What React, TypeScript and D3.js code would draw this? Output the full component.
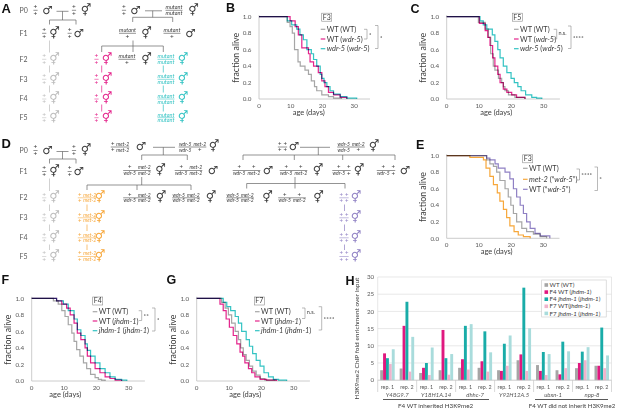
import React from "react";
import * as d3 from "d3";

const FONT = "Lato, 'Open Sans', 'DejaVu Sans', sans-serif";
const SYMFONT = "'DejaVu Sans', sans-serif";
const LETTERFONT = "'Liberation Sans', Arial, sans-serif";

const GRAY = "#a6a6a6";
const MAG = "#e4238b";
const TEAL = "#33c3c3";
const ORANGE = "#f7a73a";
const PURPLE = "#8f80c4";
const TREE = "#666666";
const FAINT = "#bdbdbd";
const AXIS = "#bfbfbf";
const TICK = "#595959";
const INK = "#3c3c3c";

// ---------------- survival data: [age (days), fraction alive]
type Pt = [number, number];
const dayTicks = [0, 10, 20, 30];
const fracTicks = [0, 0.2, 0.4, 0.6, 0.8, 1.0];

const bWT: Pt[] = [[0,1],[8.9,0.93],[9.8,0.88],[10.5,0.8],[11.2,0.6],[12.3,0.45],[13,0.4],[14.5,0.35],[15.6,0.3],[16.5,0.22],[17.5,0.15],[18.2,0.1],[19.8,0.05],[21.9,0.03],[23.5,0.01],[26,0]];
const bWTw: Pt[] = [[0,1],[9.8,0.95],[11.4,0.88],[12.4,0.78],[13.5,0.62],[15.6,0.55],[16.1,0.45],[17.2,0.4],[18.7,0.32],[19.8,0.22],[20.8,0.15],[21.9,0.08],[23.5,0.05],[25.6,0.02],[27.7,0]];
const bW5: Pt[] = [[0,1],[8.9,0.95],[10.3,0.9],[11.9,0.85],[12.9,0.78],[14,0.72],[15.1,0.6],[16.5,0.55],[17.2,0.48],[18.2,0.4],[19.3,0.3],[19.8,0.25],[20.5,0.2],[21.4,0.15],[22.4,0.1],[23.5,0.06],[25.6,0.03],[27.7,0.01],[30.8,0]];

const cWT: Pt[] = [[0,1],[9.8,0.93],[11.9,0.85],[12.9,0.75],[13.6,0.55],[14.4,0.4],[14.9,0.35],[16,0.25],[17,0.2],[17.5,0.15],[18,0.1],[19.1,0.05],[21.1,0.02],[24.2,0]];
const cWTw: Pt[] = [[0,1],[10.1,0.92],[11.9,0.83],[12.7,0.75],[13.4,0.65],[14.2,0.5],[14.9,0.4],[15.8,0.3],[16.5,0.2],[17.5,0.12],[18.6,0.08],[20.1,0.05],[21.6,0.02],[24.2,0]];
const cW5: Pt[] = [[0,1],[10.3,0.95],[11.3,0.9],[12.4,0.85],[14.1,0.78],[14.9,0.7],[15.8,0.6],[16.5,0.5],[17.5,0.4],[18.6,0.32],[19.9,0.25],[20.9,0.2],[22,0.15],[23,0.1],[24.4,0.05],[26.3,0.02],[27.8,0.01],[29.4,0]];

const eWT: Pt[] = [[0,1],[12.4,0.95],[13.4,0.9],[14.5,0.87],[15.5,0.8],[16.5,0.7],[18.1,0.6],[19.1,0.5],[19.9,0.4],[20.7,0.3],[21.7,0.2],[23.3,0.12],[24.8,0.08],[26.9,0.05],[29,0.02],[31,0]];
const eMet: Pt[] = [[0,1],[7.2,0.98],[11.4,0.95],[12.2,0.85],[13.4,0.75],[14.5,0.65],[15.7,0.55],[16.5,0.45],[17.6,0.35],[18.6,0.25],[19.6,0.15],[20.9,0.08],[22.2,0.04],[23.8,0.02],[25.9,0]];
const eWTw: Pt[] = [[0,1],[12.4,0.97],[13.4,0.95],[15,0.9],[16,0.85],[18.1,0.8],[19.6,0.72],[20.7,0.6],[21.7,0.5],[22.8,0.4],[23.8,0.3],[24.8,0.2],[25.9,0.12],[27.4,0.06],[29,0.03],[32,0]];

const fWT: Pt[] = [[0,1],[6.7,0.97],[8.2,0.93],[9.3,0.85],[10.3,0.78],[11.3,0.68],[12.4,0.58],[13.1,0.48],[13.9,0.38],[14.9,0.3],[16,0.22],[17,0.15],[18.2,0.08],[19.6,0.04],[20.6,0.02],[21.6,0.01],[22.7,0]];
const fWTj: Pt[] = [[0,1],[7.7,0.97],[9.3,0.93],[10.8,0.88],[11.9,0.8],[13.1,0.7],[14.1,0.58],[15.2,0.5],[16.5,0.4],[17.2,0.3],[18.2,0.22],[19.6,0.15],[21.1,0.1],[22.7,0.05],[24.2,0.03],[25.8,0.01],[27.8,0]];
const fJ: Pt[] = [[0,1],[7.7,0.97],[9.8,0.93],[11.3,0.85],[13.1,0.75],[14.1,0.62],[15.2,0.55],[16.5,0.45],[17.2,0.37],[18.2,0.3],[19.6,0.22],[21.1,0.15],[22.7,0.1],[24.2,0.05],[25.8,0.02],[27.8,0.01],[29.4,0]];

const gWT: Pt[] = [[0,1],[7.7,0.95],[8.8,0.88],[9.8,0.8],[10.8,0.7],[11.9,0.6],[12.9,0.5],[13.6,0.4],[14.4,0.32],[15.3,0.25],[16.3,0.18],[17.3,0.12],[18.4,0.07],[19.6,0.03],[21.1,0.01],[24.2,0]];
const gWTj: Pt[] = [[0,1],[7.2,0.93],[8.2,0.85],[9.1,0.75],[10.1,0.65],[11.3,0.55],[12.4,0.45],[13.4,0.35],[14.2,0.3],[14.9,0.22],[16,0.15],[17,0.1],[18,0.05],[19.6,0.02],[21.6,0.01],[24.7,0]];
const gJ: Pt[] = [[0,1],[8.2,0.95],[9.3,0.9],[10.5,0.85],[11.9,0.78],[12.9,0.7],[13.9,0.6],[15.3,0.5],[16.3,0.42],[17.3,0.33],[18.4,0.25],[19.6,0.18],[20.8,0.1],[22.2,0.05],[23.7,0.02],[25.3,0.01],[27.8,0]];

const labWdr = ["WT (WT)", "WT (_wdr-5_)", "_wdr-5_ (_wdr-5_)"];
const labMet = ["WT (WT)", "_met-2_ (\u201C_wdr-5_\u201D)", "WT (\u201C_wdr-5_\u201D)"];
const labJh = ["WT (WT)", "WT (_jhdm-1_)", "_jhdm-1_ (_jhdm-1_)"];

// ---------------- ChIP data (panel H)
const hGenes = ["Y48G9.7", "Y18H1A.14", "dhhc-7", "Y92H12A.5", "ubxn-1", "npp-8"];
const hReps = ["rep. 1", "rep. 2"];
const hTicks = [0, 5, 10, 15, 20, 25, 30];
const hLabels = ["WT (WT)", "F4 WT (_jhdm-1_)", "F4 _jhdm-1_ (_jhdm-1_)", "F7 WT(_jhdm-1_)", "F7 _jhdm-1_ (_jhdm-1_)"];
const hWT = [2.9, 3.4, 2.1, 2.9, 3.6, 3.6, 2.9, 5.8, 4.4, 2.9, 3.5, 4.2];
const hF4WT = [7.8, 15.8, 3.6, 14.6, 6.1, 5.5, 2.7, 7.5, 2.7, 1.7, 5.0, 4.2];
const hF4J = [6.4, 22.8, 5.0, 6.4, 15.8, 14.2, 10.6, 26.9, 8.2, 11.2, 8.3, 15.3];
const hF7WT = [4.7, 2.5, 1.5, 1.6, 3.1, 2.5, 4.2, 2.7, 1.5, 3.5, 5.8, 3.5];
const hF7J = [9.0, 12.6, 9.5, 7.6, 16.3, 8.1, 13.0, 15.1, 7.6, 8.4, 9.6, 7.2];
const hColors = ["#a5a5a5", "#e0187f", "#19aca8", "#f0b3cc", "#a9dcdc"];

function Rich({ s }: { s: string }) {
  const parts = s.split("_");
  return (
    <>
      {parts.map((t, i) =>
        t ? (
          <tspan key={i} fontStyle={i % 2 ? "italic" : "normal"}>
            {t}
          </tspan>
        ) : null
      )}
    </>
  );
}

// ---------------- survival panel
type Bracket = { x: number; y1: number; y2: number; label: string };
type SurvDef = {
  letter: string; lx: number; ly: number;
  x0: number; x1: number; yTop: number; yBot: number;
  gen: string; boxX: number; boxY: number;
  legX: number; legY: number[]; labels: string[];
  data: Pt[][]; colors: string[];
  brackets: Bracket[]; ageDay: number;
};

const survPanels: SurvDef[] = [
  { letter: "B", lx: 226, ly: 12, x0: 259, x1: 370, yTop: 16.7, yBot: 99, gen: "F3", boxX: 321.7, boxY: 13.2,
    legX: 320.7, legY: [29.3, 39, 48.7], labels: labWdr, data: [bWT, bWTw, bW5], colors: [GRAY, MAG, TEAL],
    brackets: [{ x: 367, y1: 29.3, y2: 39, label: "*" }, { x: 378, y1: 25.5, y2: 48.5, label: "*" }], ageDay: 15.7 },
  { letter: "C", lx: 410.5, ly: 13, x0: 446.7, x1: 559.9, yTop: 16.7, yBot: 99, gen: "F5", boxX: 512.3, boxY: 13.2,
    legX: 514, legY: [29.3, 39, 48.7], labels: labWdr, data: [cWT, cWTw, cW5], colors: [GRAY, MAG, TEAL],
    brackets: [{ x: 556.7, y1: 29.3, y2: 39, label: "n.s." }, { x: 571, y1: 26, y2: 48.5, label: "****" }], ageDay: 15.3 },
  { letter: "E", lx: 416, ly: 148.5, x0: 446.7, x1: 559.5, yTop: 155.7, yBot: 238.3, gen: "F3", boxX: 522.7, boxY: 154.8,
    legX: 523, legY: [168.3, 179.3, 189.3], labels: labMet, data: [eWT, eMet, eWTw], colors: [GRAY, ORANGE, PURPLE],
    brackets: [{ x: 579.5, y1: 169, y2: 180, label: "****" }, { x: 597.5, y1: 167, y2: 190.5, label: "*" }], ageDay: 15.5 },
  { letter: "F", lx: 1.5, ly: 283.5, x0: 31.7, x1: 144.9, yTop: 298.3, yBot: 381, gen: "F4", boxX: 92.7, boxY: 297,
    legX: 92.7, legY: [311.7, 321, 330.7], labels: labJh, data: [fWT, fWTj, fJ], colors: [GRAY, MAG, TEAL],
    brackets: [{ x: 141.7, y1: 310.7, y2: 320.5, label: "**" }, { x: 155, y1: 308, y2: 331, label: "*" }], ageDay: 10.4 },
  { letter: "G", lx: 166.5, ly: 283.5, x0: 196.7, x1: 309.9, yTop: 298.3, yBot: 381, gen: "F7", boxX: 254.3, boxY: 297,
    legX: 255, legY: [311.7, 321, 330.7], labels: labJh, data: [gWT, gWTj, gJ], colors: [GRAY, MAG, TEAL],
    brackets: [{ x: 305, y1: 308, y2: 318.5, label: "n.s." }, { x: 321.7, y1: 306.7, y2: 330, label: "****" }], ageDay: 15 },
];

function Survival({ p }: { p: SurvDef }) {
  const x = d3.scaleLinear().domain([0, 35]).range([p.x0, p.x1]);
  const y = d3.scaleLinear().domain([0, 1]).range([p.yBot, p.yTop]);
  const line = d3.line<Pt>().x((d) => x(d[0])).y((d) => y(d[1])).curve(d3.curveStepAfter);
  const midY = (p.yTop + p.yBot) / 2;
  return (
    <g fontFamily={FONT}>
      <text x={p.lx} y={p.ly} fontFamily={LETTERFONT} fontWeight="bold" fontSize={12.5} fill="#111">{p.letter}</text>
      <line x1={x(0)} x2={x(0)} y1={y(1) - 1.5} y2={y(0)} stroke={AXIS} strokeWidth={0.8} />
      <line x1={x(0)} x2={x(35)} y1={y(0)} y2={y(0)} stroke={AXIS} strokeWidth={0.8} />
      {fracTicks.map((t) => (
        <text key={t} x={x(0) - 7.5} y={y(t)} dy="0.35em" textAnchor="end" fontSize={6.3} fill={TICK}>{t.toFixed(1)}</text>
      ))}
      {dayTicks.map((t) => (
        <text key={t} x={x(t)} y={y(0) + 8.6} textAnchor="middle" fontSize={6.3} fill={TICK}>{t}</text>
      ))}
      <text x={x(p.ageDay)} y={y(0) + 16} textAnchor="middle" fontSize={7.5} fill={INK}>age (days)</text>
      <text transform={`translate(${x(0) - 20.5},${midY}) rotate(-90)`} textAnchor="middle" fontSize={8.8} fill={INK}>fraction alive</text>
      {p.data.map((d, i) => (
        <path key={i} d={line(d) || ""} fill="none" stroke={p.colors[i]} strokeWidth={1.2} style={{ mixBlendMode: "multiply" }} />
      ))}
      <rect x={p.boxX} y={p.boxY} width={10} height={8} fill="#fff" stroke="#8c8c8c" strokeWidth={0.6} />
      <text x={p.boxX + 5} y={p.boxY + 6.3} textAnchor="middle" fontSize={7} fill={INK}>{p.gen}</text>
      {p.labels.map((l, i) => (
        <g key={i}>
          <line x1={p.legX} x2={p.legX + 4.6} y1={p.legY[i]} y2={p.legY[i]} stroke={p.colors[i]} strokeWidth={1.2} />
          <text x={p.legX + 6} y={p.legY[i]} dy="0.35em" fontSize={7.4} fill={INK}><Rich s={l} /></text>
        </g>
      ))}
      {p.brackets.map((b, i) => (
        <g key={i}>
          <path d={`M${b.x - 3},${b.y1}H${b.x}V${b.y2}H${b.x - 3}`} fill="none" stroke="#8c8c8c" strokeWidth={0.6} />
          <text x={b.x + 1.8} y={(b.y1 + b.y2) / 2 + (b.label === "n.s." ? 0.5 : 2.6)} fontSize={b.label === "n.s." ? 5.5 : 6.5} fill={INK}>{b.label}</text>
        </g>
      ))}
    </g>
  );
}

// ---------------- genotype glyph for crossing schemes
type Col = [string, string];
function tw(s: string, fs: number) {
  if (s === "+") return fs * 0.62;
  return s.length * fs * 0.49;
}
function Geno({ cx, y, cols, sym, sx, c = INK, fs = 5 }: { cx: number; y: number; cols: Col[]; sym: "m" | "h"; sx: number; c?: string; fs?: number }) {
  const widths = cols.map(([a, b]) => Math.max(tw(a, fs), tw(b, fs)));
  const gap = 2.3;
  const total = widths.reduce((s, w) => s + w, 0) + gap * (cols.length - 1);
  let acc = cx - total / 2;
  const centers = widths.map((w) => {
    const cc = acc + w / 2;
    acc += w + gap;
    return cc;
  });
  return (
    <g fill={c}>
      {cols.map(([a, b], i) => (
        <g key={i}>
          <text x={centers[i]} y={y - 1.1} textAnchor="middle" fontSize={a === "+" ? fs + 1 : fs} fontStyle={a === "+" ? "normal" : "italic"}>{a}</text>
          <text x={centers[i]} y={y + (b === "+" ? 5.3 : 4.6)} textAnchor="middle" fontSize={b === "+" ? fs + 1 : fs} fontStyle={b === "+" ? "normal" : "italic"}>{b}</text>
        </g>
      ))}
      <line x1={cx - total / 2 - 0.4} x2={cx + total / 2 + 0.4} y1={y} y2={y} stroke={c} strokeWidth={0.55} />
      <text x={sx} y={y + 3.2} textAnchor="middle" fontFamily={SYMFONT} fontSize={11.5} fill={c}>{sym === "h" ? "\u26A5" : "\u2642"}</text>
    </g>
  );
}

const PP: Col[] = [["+", "+"]];
const MP: Col[] = [["mutant", "+"]];
const MM: Col[] = [["mutant", "mutant"]];
const pMet_pMet: Col[] = [["+", "+"], ["met-2", "met-2"]];
const wMet_wP: Col[] = [["wdr-5", "wdr-5"], ["met-2", "+"]];
const pMet_wMet: Col[] = [["+", "wdr-5"], ["met-2", "met-2"]];
const wMet_wMet: Col[] = [["wdr-5", "wdr-5"], ["met-2", "met-2"]];
const pp_pp: Col[] = [["+", "+"], ["+", "+"]];
const pp_wMet: Col[] = [["+", "wdr-5"], ["+", "met-2"]];
const pp_wP: Col[] = [["+", "wdr-5"], ["+", "+"]];

function RowLabels({ rows }: { rows: [string, number][] }) {
  return (
    <g fontSize={7} fill={TICK}>
      {rows.map(([t, y]) => (
        <text key={t} x={19.5} y={y} dy="0.35em">{t}</text>
      ))}
    </g>
  );
}

function PanelA() {
  const r = { P0: 10.3, F1: 33.3, F2: 59.3, F3: 79.3, F4: 99, F5: 117.7 };
  return (
    <g fontFamily={FONT}>
      <text x={1.5} y={13.3} fontFamily={LETTERFONT} fontWeight="bold" fontSize={13} fill="#111">A</text>
      <RowLabels rows={[["P0", r.P0], ["F1", r.F1], ["F2", r.F2], ["F3", r.F3], ["F4", r.F4], ["F5", r.F5]]} />
      {/* left: wild-type lineage */}
      <Geno cx={35.5} y={r.P0} cols={PP} sym="m" sx={47.5} fs={5.5} />
      <Geno cx={74} y={r.P0} cols={PP} sym="h" sx={86} fs={5.5} />
      <Geno cx={44.2} y={r.F1} cols={PP} sym="h" sx={54.5} fs={5.5} />
      <Geno cx={69.7} y={r.F1} cols={PP} sym="m" sx={78.7} fs={5.5} />
      {[r.F2, r.F3, r.F4, r.F5].map((yy, i) => (
        <Geno key={i} cx={44.2} y={yy} cols={PP} sym="h" sx={54.5} c={FAINT} fs={5.5} />
      ))}
      <path d="M56.5,11.3H68.5M62.5,11.3V20M49.5,20H76M49.5,20V24.5M76,20V24.5" fill="none" stroke={TREE} strokeWidth={0.7} />
      <path d="M49.5,40.5V52.5M49.5,65.5V72.5M49.5,85.5V92.5M49.5,104.5V111.5" fill="none" stroke={FAINT} strokeWidth={0.7} />
      {/* right: mutant lineage */}
      <Geno cx={124} y={r.P0} cols={PP} sym="m" sx={135.5} fs={5.5} />
      <Geno cx={174} y={r.P0} cols={MM} sym="h" sx={193.5} fs={5.5} />
      <Geno cx={127.5} y={r.F1} cols={MP} sym="h" sx={146.5} fs={5.5} />
      <Geno cx={172} y={r.F1} cols={MP} sym="m" sx={190.5} fs={5.5} />
      <Geno cx={127} y={r.F2} cols={MP} sym="h" sx={146.5} fs={5.5} />
      {[r.F2, r.F3, r.F4, r.F5].map((yy, i) => (
        <g key={i}>
          <Geno cx={96.5} y={yy} cols={PP} sym="h" sx={107} c={MAG} fs={5.5} />
          <Geno cx={166} y={yy} cols={MM} sym="h" sx={183} c={TEAL} fs={5.5} />
        </g>
      ))}
      <path d="M145,10.8H162M152.7,10.8V17.3M132.7,17.3H172.7M132.7,17.3V22M172.7,17.3V22M133,40.5V46M101.7,46H163.3M101.7,46V52M133,46V52M163.3,46V52" fill="none" stroke={TREE} strokeWidth={0.7} />
      <path d="M101.7,65.5V72.5M101.7,85.5V92.5M101.7,104.5V111.5" fill="none" stroke={MAG} strokeWidth={0.7} />
      <path d="M163.3,65.5V72.5M163.3,85.5V92.5M163.3,104.5V111.5" fill="none" stroke={TEAL} strokeWidth={0.7} />
    </g>
  );
}

function PanelD() {
  const L = { P0: 150.5, F1: 171.5 };
  const r = { P0: 147, F1: 170.5, F2: 197.8, F3: 217.8, F4: 237.8, F5: 256.5 };
  return (
    <g fontFamily={FONT}>
      <text x={1.5} y={148} fontFamily={LETTERFONT} fontWeight="bold" fontSize={13} fill="#111">D</text>
      <RowLabels rows={[["P0", 150.5], ["F1", 171.5], ["F2", 198], ["F3", 218], ["F4", 238], ["F5", 256.5]]} />
      {/* left: wild-type lineage */}
      <Geno cx={35.5} y={L.P0} cols={PP} sym="m" sx={47.5} fs={5.5} />
      <Geno cx={74} y={L.P0} cols={PP} sym="h" sx={86} fs={5.5} />
      <Geno cx={44.2} y={L.F1} cols={PP} sym="h" sx={54.5} fs={5.5} />
      <Geno cx={69.7} y={L.F1} cols={PP} sym="m" sx={78.7} fs={5.5} />
      {[r.F2, r.F3, r.F4, r.F5].map((yy, i) => (
        <Geno key={i} cx={44.2} y={yy} cols={PP} sym="h" sx={54.5} c={FAINT} fs={5.5} />
      ))}
      <path d="M56.5,151.5H68.5M62.5,151.5V159M49.5,159H76M49.5,159V163.5M76,159V163.5" fill="none" stroke={TREE} strokeWidth={0.7} />
      <path d="M49.5,178.5V191M49.5,204.5V211M49.5,224.5V231M49.5,244.5V250" fill="none" stroke={FAINT} strokeWidth={0.7} />
      {/* middle: met-2 lineage */}
      <Geno cx={120} y={r.P0} cols={pMet_pMet} sym="m" sx={141} />
      <Geno cx={192.5} y={r.P0} cols={wMet_wP} sym="h" sx={214} />
      <Geno cx={137} y={r.F1} cols={pMet_wMet} sym="h" sx={160.5} />
      <Geno cx={188.5} y={r.F1} cols={pMet_wMet} sym="m" sx={213} />
      <Geno cx={137} y={r.F2} cols={pMet_wMet} sym="h" sx={161} />
      <Geno cx={186} y={r.F2} cols={wMet_wMet} sym="h" sx={211} />
      {[r.F2, r.F3, r.F4, r.F5].map((yy, i) => (
        <Geno key={i} cx={87} y={yy} cols={pMet_pMet} sym="h" sx={100} c={ORANGE} />
      ))}
      <path d="M153,147.3H175M163.3,147.3V155M141.7,155H187.3M141.7,155V160M187.3,155V160M141.7,177V185M87,185H191M87,185V190M137,185V190M191,185V190" fill="none" stroke={TREE} strokeWidth={0.7} />
      <path d="M87,204.5V211M87,224.5V231M87,244.5V250" fill="none" stroke={ORANGE} strokeWidth={0.7} />
      {/* right: wdr-5 met-2 lineage */}
      <Geno cx={282.5} y={r.P0} cols={pp_pp} sym="m" sx={294} />
      <Geno cx={351} y={r.P0} cols={wMet_wP} sym="h" sx={374} />
      <Geno cx={246.5} y={r.F1} cols={pp_wMet} sym="m" sx={268} />
      <Geno cx={293.5} y={r.F1} cols={pp_wMet} sym="h" sx={318} />
      <Geno cx={341.5} y={r.F1} cols={pp_wP} sym="h" sx={359} />
      <Geno cx={386} y={r.F1} cols={pp_wP} sym="m" sx={405} />
      <Geno cx={240} y={r.F2} cols={wMet_wMet} sym="h" sx={267.5} />
      <Geno cx={292} y={r.F2} cols={pp_wMet} sym="h" sx={318.5} />
      {[r.F2, r.F3, r.F4, r.F5].map((yy, i) => (
        <Geno key={i} cx={344} y={yy} cols={pp_pp} sym="h" sx={356} c={PURPLE} />
      ))}
      <path d="M300,147.3H330M318.3,147.3V155M243,155H395M243,155V160M294.3,155V160M342.7,155V160M395,155V160M295,177V183.5M246.7,183.5H345M246.7,183.5V188.5M295,183.5V188.5M345,183.5V188.5" fill="none" stroke={TREE} strokeWidth={0.7} />
      <path d="M344.5,204.5V211M344.5,224.5V231M344.5,244.5V250" fill="none" stroke={PURPLE} strokeWidth={0.7} />
    </g>
  );
}

function PanelH() {
  const y = d3.scaleLinear().domain([0, 30]).range([380.2, 277]);
  const gx = d3.scaleBand<string>().domain(hGenes).range([377.7, 611.5]);
  const rx = d3.scaleBand<string>().domain(hReps).range([0, gx.bandwidth()]);
  const series = [hWT, hF4WT, hF4J, hF7WT, hF7J];
  const keys = hLabels;
  const sx = d3.scaleBand<string>().domain(keys).range([0, rx.bandwidth()]).paddingOuter(0.86);
  const left = 377.7, right = 611.5;
  return (
    <g fontFamily={FONT}>
      <text x={345.5} y={284.5} fontFamily={LETTERFONT} fontWeight="bold" fontSize={12.5} fill="#111">H</text>
      {hTicks.map((t) => (
        <g key={t}>
          {t > 0 && <line x1={left} x2={right} y1={y(t)} y2={y(t)} stroke="#d9d9d9" strokeWidth={0.6} />}
          <text x={left - 3.5} y={y(t)} dy="0.35em" textAnchor="end" fontSize={6.2} fill={TICK}>{t}</text>
        </g>
      ))}
      <line x1={right} x2={right} y1={y(30)} y2={y(0)} stroke="#d9d9d9" strokeWidth={0.6} />
      <line x1={left} x2={left} y1={y(30)} y2={y(0)} stroke="#d9d9d9" strokeWidth={0.6} />
      {hGenes.map((g, gi) =>
        hReps.map((rp, ri) =>
          series.map((vals, si) => {
            const v = vals[gi * 2 + ri];
            const x0 = (gx(g) || 0) + (rx(rp) || 0) + (sx(keys[si]) || 0);
            return <rect key={`${g}-${rp}-${si}`} x={x0} y={y(v)} width={sx.bandwidth()} height={y(0) - y(v)} fill={hColors[si]} />;
          })
        )
      )}
      <line x1={left} x2={right} y1={y(0)} y2={y(0)} stroke={AXIS} strokeWidth={0.8} />
      {hGenes.map((g, gi) => (
        <g key={g}>
          <line x1={gx(g) || 0} x2={gx(g) || 0} y1={y(0)} y2={392} stroke={AXIS} strokeWidth={0.6} />
          {hReps.map((rp) => (
            <text key={rp} x={(gx(g) || 0) + (rx(rp) || 0) + rx.bandwidth() / 2} y={389} textAnchor="middle" fontSize={5.4} fill={TICK}>{rp}</text>
          ))}
          <text x={(gx(g) || 0) + gx.bandwidth() / 2} y={396.5} textAnchor="middle" fontSize={6} fontStyle="italic" fill={TICK}>{g}</text>
          {gi === hGenes.length - 1 && <line x1={right} x2={right} y1={y(0)} y2={392} stroke={AXIS} strokeWidth={0.6} />}
        </g>
      ))}
      <line x1={383} x2={489} y1={399.5} y2={399.5} stroke={TICK} strokeWidth={1.1} />
      <text x={435.5} y={407.5} textAnchor="middle" fontSize={6.3} fill={INK}>F4 WT inherited H3K9me2</text>
      <line x1={535} x2={608} y1={399.5} y2={399.5} stroke={TICK} strokeWidth={1.1} />
      <text x={572} y={407.5} textAnchor="middle" fontSize={6.1} fill={INK}>F4 WT did not inherit H3K9me2</text>
      <text transform={`translate(359,338.5) rotate(-90)`} textAnchor="middle" fontSize={6.5} fill={INK}>H3K9me2 ChIP fold enrichment over input</text>
      <rect x={541.7} y={280} width={64.5} height={37} fill="#fff" stroke="#c8c8c8" strokeWidth={0.6} />
      {hLabels.map((l, i) => (
        <g key={l}>
          <rect x={544.5} y={283.2 + i * 7.1} width={3.6} height={3.6} fill={hColors[i]} />
          <text x={549.5} y={285 + i * 7.1} dy="0.35em" fontSize={6.2} fill={INK}><Rich s={l} /></text>
        </g>
      ))}
    </g>
  );
}

export default function App() {
  return (
    <svg width={617} height={410} viewBox="0 0 617 410" style={{ position: "absolute", left: 0, top: 0, display: "block" }} fontFamily={FONT}>
      <rect width={617} height={410} fill="#fff" />
      <PanelA />
      <PanelD />
      {survPanels.map((p) => (
        <Survival key={p.letter} p={p} />
      ))}
      <PanelH />
    </svg>
  );
}
